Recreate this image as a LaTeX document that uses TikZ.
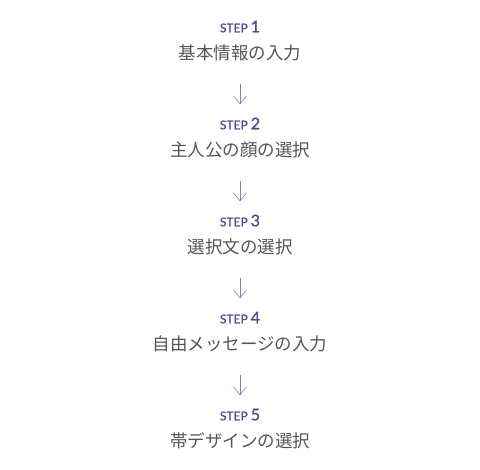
\documentclass[tikz,border=0pt]{standalone}
\usepackage{fontspec}
\setmainfont{Lato}
\newfontfamily\stepfont{Lato}[FakeBold=1.2]
\newfontfamily\jpfont{Noto Sans CJK JP}
\usetikzlibrary{arrows.meta, positioning}
\definecolor{steppurple}{HTML}{5E4592}
\definecolor{arrowpurple}{HTML}{8C7AB8}
\definecolor{titlegray}{HTML}{555555}

\begin{document}
\begin{tikzpicture}[
  x=1pt, y=1pt,
  steplabel/.style={inner sep=0pt, text=steppurple, font=\stepfont\fontsize{12}{14}\selectfont, anchor=base},
  titletext/.style={inner sep=0pt, text=titlegray, font=\jpfont\fontsize{17.5}{20}\selectfont, anchor=base},
  arrow/.style={-{Straight Barb[length=8pt, width=13pt]}, arrowpurple, line width=0.6pt,
    shorten <=24pt, shorten >=25pt}
]
\useasboundingbox (0,0) rectangle (480,-470);

\node (s1) [steplabel] at (240,-32.3) {STEP \fontsize{16}{18}\selectfont 1};
\node (t1) [titletext] at (240,-60) {基本情報の入力};
\node (s2) [steplabel] at (240,-129.3) {STEP \fontsize{16}{18}\selectfont 2};
\node (t2) [titletext] at (240,-157) {主人公の顔の選択};
\node (s3) [steplabel] at (240,-226.3) {STEP \fontsize{16}{18}\selectfont 3};
\node (t3) [titletext] at (240,-254) {選択文の選択};
\node (s4) [steplabel] at (240,-323.3) {STEP \fontsize{16}{18}\selectfont 4};
\node (t4) [titletext] at (240,-351) {自由メッセージの入力};
\node (s5) [steplabel] at (240,-420.3) {STEP \fontsize{16}{18}\selectfont 5};
\node (t5) [titletext] at (240,-448) {帯デザインの選択};

\draw [arrow] (t1.base) -- (s2.base);
\draw [arrow] (t2.base) -- (s3.base);
\draw [arrow] (t3.base) -- (s4.base);
\draw [arrow] (t4.base) -- (s5.base);

\end{tikzpicture}
\end{document}
